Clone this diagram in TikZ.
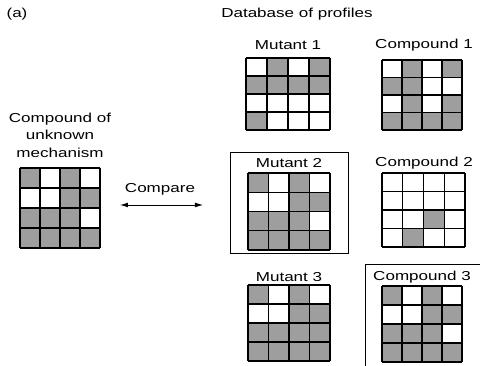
\documentclass[tikz,border=0pt]{standalone}
\usepackage{fontspec}
\setmainfont[FakeStretch=1.31]{Liberation Sans}
\usetikzlibrary{arrows.meta,fit}

% cells of a 4x4 profile: #1 name, #2 left, #3 top, #4 cell width, #5 cell height,
% #6 sixteen flags in row order (1 = shaded)
\newcommand\profilegrid[6]{%
  \foreach \v [count=\i from 0] in {#6} {%
    \pgfmathtruncatemacro\rr{div(\i,4)}%
    \pgfmathtruncatemacro\cc{mod(\i,4)}%
    \ifnum\v=1
      \fill[cellshade] ({#2+\cc*#4},{#3+\rr*#5}) rectangle ++(#4,#5);
    \fi
  }
  \foreach \k in {0,...,4} {%
    \draw[gridline] ({#2+\k*#4},#3) -- ++(0,{4*#5});
    \draw[gridline] (#2,{#3+\k*#5}) -- ++({4*#4},0);
  }
  \coordinate (#1-nw) at (#2,#3);
  \coordinate (#1-se) at ({#2+4*#4},{#3+4*#5});
  \node[fit=(#1-nw)(#1-se), inner sep=0pt] (#1) {};
}

\begin{document}
\begin{tikzpicture}[x=0.75pt, y=-0.75pt,
  every node/.style={font=\fontsize{9.75}{13.1}\selectfont, inner sep=0pt},
  cellshade/.style={fill=black!38},
  gridline/.style={draw=black, line width=0.85pt},
  framebox/.style={draw=black, line width=0.6pt},
  link/.style={{Latex[length=6pt,width=3.6pt]}-{Latex[length=6pt,width=3.6pt]}, line width=0.6pt},
  heading/.style={anchor=center}]
\useasboundingbox (0,0) rectangle (480,366);
\fill[white] (0,0) rectangle (480,366);

% titles
\node[heading] (tag) at (17,14) {(a)};
\node[heading] (db) at (297,14) {Database of profiles};

% query compound
\node[heading, align=center] (qlabel) at (60,135) {Compound of\\unknown\\mechanism};
\profilegrid{query}{20}{168}{20}{20}{1,0,1,0, 0,0,1,1, 1,1,1,0, 1,1,1,1}

% comparison arrow
\coordinate (cmpL) at (120,205);
\coordinate (cmpR) at (203,205);
\draw[link] (cmpL) -- (cmpR);
\node[heading] (cmp) at (160,189) {Compare};

% reference profiles
\node[heading] (m1) at (288,45) {Mutant 1};
\profilegrid{mut1}{246}{58}{21}{18}{0,1,0,1, 1,1,1,1, 0,0,0,0, 1,0,0,0}
\node[heading] (c1) at (424,45) {Compound 1};
\profilegrid{cpd1}{382}{60}{20}{17.5}{0,1,0,1, 1,1,0,0, 0,1,0,1, 1,1,1,1}

\draw[framebox] (230,152) rectangle (348,253);
\node[heading] (m2) at (289,163) {Mutant 2};
\profilegrid{mut2}{248}{173}{20.5}{19.25}{1,0,1,0, 0,0,1,1, 1,1,1,0, 1,1,1,1}
\node[heading] (c2) at (424,163) {Compound 2};
\profilegrid{cpd2}{382}{173}{20.75}{18.5}{0,0,0,0, 0,0,0,0, 0,0,1,0, 0,1,0,0}

\node[heading] (m3) at (289,277) {Mutant 3};
\profilegrid{mut3}{248}{285}{20.5}{19}{1,0,1,0, 0,0,1,1, 1,1,1,1, 1,1,1,1}
\draw[framebox] (365,366) -- (365,264) -- (480,264);
\node[heading] (c3) at (422,277) {Compound 3};
\profilegrid{cpd3}{382}{286}{20}{19}{1,0,1,0, 0,0,1,1, 1,1,1,0, 1,1,1,1}
\end{tikzpicture}
\end{document}
